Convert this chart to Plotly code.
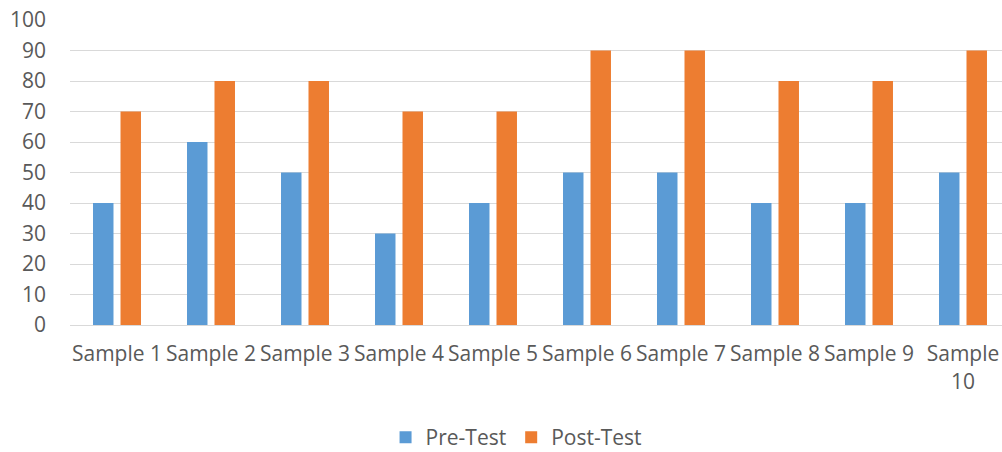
import plotly.graph_objects as go

categories = ["Sample 1", "Sample 2", "Sample 3", "Sample 4", "Sample 5",
              "Sample 6", "Sample 7", "Sample 8", "Sample 9", "Sample<br>10"]
pre_test = [40, 60, 50, 30, 40, 50, 50, 40, 40, 50]
post_test = [70, 80, 80, 70, 70, 90, 90, 80, 80, 90]
y_ticks = list(range(0, 101, 10))

font_family = "Open Sans, DejaVu Sans, sans-serif"
grey = "#595959"
fs = 21

fig = go.Figure()
fig.add_trace(go.Bar(name="Pre-Test", x=categories, y=pre_test,
                     marker=dict(color="#5B9BD5", line=dict(width=0))))
fig.add_trace(go.Bar(name="Post-Test", x=categories, y=post_test,
                     marker=dict(color="#ED7D31", line=dict(width=0))))

fig.update_layout(
    width=1002, height=452,
    margin=dict(l=70, r=0, t=20, b=127, autoexpand=False),
    paper_bgcolor="white", plot_bgcolor="white",
    barmode="group", bargap=0.415, bargroupgap=0.255,
    font=dict(family=font_family, size=fs, color=grey),
    legend=dict(orientation="h", x=0.4786, xanchor="center",
                yref="container", y=0.032, yanchor="middle",
                bgcolor="rgba(0,0,0,0)", borderwidth=0,
                font=dict(size=fs, color=grey), itemwidth=30, traceorder="normal"),
    showlegend=True,
)
fig.update_xaxes(range=[-0.5, 9.415], showgrid=False, showline=True, automargin=False,
                 linecolor="#D9D9D9", linewidth=1, ticks="", ticklabelstandoff=10,
                 tickfont=dict(size=fs, color=grey))
fig.update_yaxes(range=[0, 100], tickvals=y_ticks, showgrid=True, gridcolor="#D9D9D9",
                 gridwidth=1, zeroline=False, showline=False, ticks="", automargin=False,
                 ticklabelstandoff=23, tickfont=dict(size=fs, color=grey))

fig.write_html("out.html", config={"displayModeBar": False},
               post_script="document.body.style.margin='0';document.body.style.overflow='hidden';")
